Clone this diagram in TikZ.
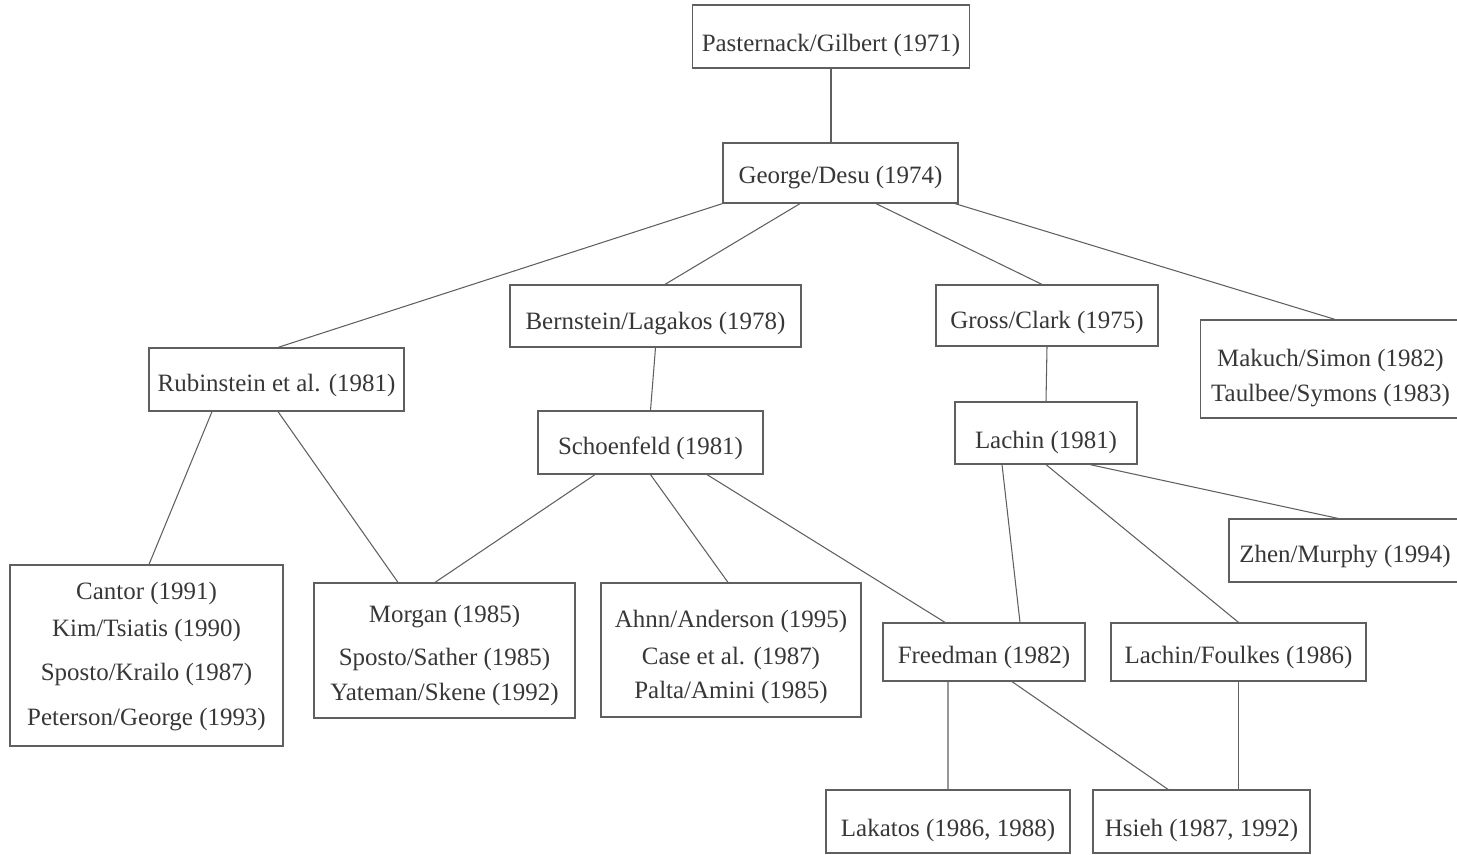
\documentclass[tikz,border=0pt]{standalone}
\usepackage{fontspec}
\setmainfont{Liberation Serif}
\usepackage{xcolor}
\usetikzlibrary{positioning, calc}
\definecolor{boxgray}{RGB}{95, 95, 95}
\definecolor{textgray}{RGB}{55, 55, 55}

\tikzset{
    paper/.style={draw=boxgray, line width=0.7pt, fill=white, inner sep=0pt},
    papertext/.style={text=textgray, align=center, inner sep=0pt,
        font=\fontsize{14.2}{17}\selectfont},
    link/.style={draw=boxgray, line width=0.6pt}
}
% box with its text set a little below the middle
\newcommand{\paperbox}[6][0.14cm]{%
    \node[paper, minimum width=#4, minimum height=#5] (#2) at (#3) {};
    \node[papertext] (#2-text) at ([yshift=-#1]#2.center) {#6};
}

\begin{document}
\begin{tikzpicture}[x=0.02cm, y=-0.02cm]
    \clip (0,0) rectangle (1457,855);
    \useasboundingbox (0,0) rectangle (1457,855);
    % top of the tree
    \paperbox[0.18cm]{past}{831,36.5}{5.54cm}{1.26cm}{Pasternack/Gilbert (1971)}
    \paperbox[0.1cm]{george}{840.5,173}{4.7cm}{1.2cm}{George/Desu (1974)}
    % second level
    \paperbox[0.16cm]{bern}{655.5,316}{5.82cm}{1.24cm}{Bernstein/Lagakos (1978)}
    \paperbox{gross}{1047,315.5}{4.44cm}{1.22cm}{Gross/Clark (1975)}
    \paperbox[0.18cm]{makuch}{1330.5,369}{5.2cm}{1.96cm}{Makuch/Simon (1982)\\[3.4pt] Taulbee/Symons (1983)}
    \paperbox[0.12cm]{rub}{276.5,379.5}{5.1cm}{1.26cm}{Rubinstein et al. (1981)}
    \paperbox[0.12cm]{schoen}{650.5,442.5}{4.5cm}{1.26cm}{Schoenfeld (1981)}
    \paperbox[0.18cm]{lachin}{1046,433}{3.64cm}{1.24cm}{Lachin (1981)}
    \paperbox[0.12cm]{zhen}{1345,550.5}{4.64cm}{1.26cm}{Zhen/Murphy (1994)}
    % lower level
    \paperbox[0.02cm]{cantor}{146.5,655.5}{5.46cm}{3.62cm}{Cantor (1991)\\[4pt] Kim/Tsiatis (1990)\\[8.5pt] Sposto/Krailo (1987)\\[8.5pt] Peterson/George (1993)}
    \paperbox[0.1cm]{morgan}{444.5,650.5}{5.22cm}{2.7cm}{Morgan (1985)\\[7.4pt] Sposto/Sather (1985)\\[3.4pt] Yateman/Skene (1992)}
    \paperbox{ahnn}{731,650}{5.2cm}{2.68cm}{Ahnn/Anderson (1995)\\[4pt] Case et al. (1987)\\[2.8pt] Palta/Amini (1985)}
    \paperbox[0.1cm]{freed}{984,652}{4.04cm}{1.16cm}{Freedman (1982)}
    \paperbox[0.1cm]{lfoul}{1238.5,652}{5.1cm}{1.16cm}{Lachin/Foulkes (1986)}
    \paperbox[0.18cm]{lakat}{948,821.5}{4.88cm}{1.26cm}{Lakatos (1986, 1988)}
    \paperbox[0.18cm]{hsieh}{1201.5,821.5}{4.34cm}{1.26cm}{Hsieh (1987, 1992)}

    % connectors
    \draw[link] (past.south) -- (past.south |- george.north);
    \draw[link] (george.south west) -- ([xshift=0.03cm]rub.north);
    \draw[link] ([xshift=-0.81cm]george.south) -- ([xshift=0.19cm]bern.north);
    \draw[link] ([xshift=0.71cm]george.south) -- ([xshift=-0.1cm]gross.north);
    \draw[link] ([xshift=2.29cm]george.south) -- ([xshift=0.09cm]makuch.north);
    \draw[link] (bern.south) -- (schoen.north);
    \draw[link] (gross.south) -- (lachin.north);
    \draw[link] ([xshift=-1.29cm]rub.south) -- ([xshift=0.05cm]cantor.north);
    \draw[link] ([xshift=0.03cm]rub.south) -- ([xshift=-0.93cm]morgan.north);
    \draw[link] ([xshift=-1.11cm]schoen.south) -- ([xshift=-0.19cm]morgan.north);
    \draw[link] (schoen.south) -- ([xshift=-0.06cm]ahnn.north);
    \draw[link] ([xshift=1.13cm]schoen.south) -- ([xshift=-0.78cm]freed.north);
    \draw[link] ([xshift=-0.88cm]lachin.south) -- ([xshift=0.72cm]freed.north);
    \draw[link] (lachin.south) -- (lfoul.north);
    \draw[link] ([xshift=0.88cm]lachin.south) -- ([xshift=-0.14cm]zhen.north);
    \draw[link] ([xshift=-0.72cm]freed.south) -- (lakat.north);
    \draw[link] ([xshift=0.56cm]freed.south) -- ([xshift=-0.67cm]hsieh.north);
    \draw[link] (lfoul.south) -- (lfoul.south |- hsieh.north);
\end{tikzpicture}
\end{document}
